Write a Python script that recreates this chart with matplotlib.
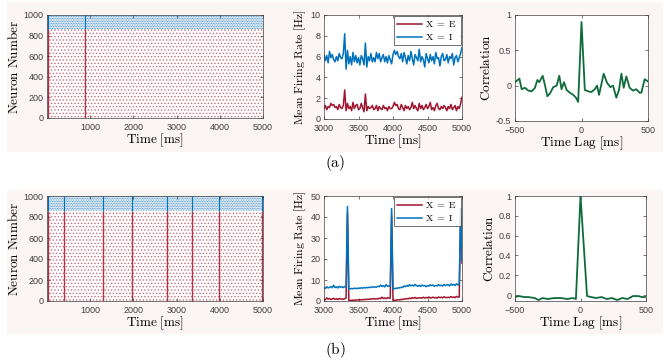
import matplotlib
matplotlib.use("Agg")
import matplotlib.pyplot as plt
from matplotlib.patches import Rectangle
import numpy as np

plt.rcParams["mathtext.fontset"] = "cm"
plt.rcParams["hatch.linewidth"] = 0.6

# ---- data ----
t_end = 5000
n_exc = 860
n_total = 1000
bursts_a = [15, 880]
bursts_b = [15, 400, 1287, 1965, 2773, 3351, 3983, 4985]

rate_t = list(range(3000, 5001, 20))
rate_e_a = [1.0, 1.3, 0.9, 1.2, 1.1, 1.5, 1.3, 1.4, 1.1, 1.2,
            0.9, 1.4, 1.1, 1.0, 1.3, 2.8, 0.8, 1.5, 1.0, 1.2,
            0.8, 1.6, 1.0, 1.3, 1.4, 0.9, 1.0, 1.5, 1.1, 0.7,
            2.4, 0.8, 1.2, 1.0, 1.1, 1.3, 0.9, 1.0, 1.3, 0.8,
            1.2, 1.0, 0.9, 1.3, 1.0, 1.1, 0.8, 1.2, 1.0, 1.0,
            1.2, 1.6, 1.3, 1.4, 1.0, 0.9, 1.4, 1.1, 0.8, 1.3,
            1.0, 1.2, 0.9, 1.1, 1.6, 1.0, 1.3, 1.0, 0.8, 1.5,
            1.0, 1.3, 0.9, 1.1, 1.4, 1.0, 1.2, 1.6, 0.9, 1.1,
            0.8, 1.3, 1.5, 1.0, 0.9, 1.2, 1.0, 1.3, 1.1, 0.8,
            1.2, 1.0, 1.4, 0.9, 1.1, 1.3, 0.8, 1.2, 1.0, 1.5,
            2.1]
rate_i_a = [6.2, 5.6, 6.1, 5.4, 6.5, 5.9, 6.2, 5.7, 5.5, 6.0,
            5.6, 6.3, 5.9, 5.8, 6.3, 8.2, 4.8, 6.6, 5.3, 6.0,
            5.2, 6.4, 5.5, 6.1, 5.4, 5.9, 5.2, 6.1, 5.8, 5.2,
            7.3, 5.0, 6.0, 5.6, 6.3, 5.5, 5.9, 5.5, 6.4, 5.8,
            6.3, 5.5, 5.9, 6.2, 5.5, 6.0, 5.4, 6.1, 5.7, 5.3,
            6.2, 6.6, 6.2, 6.5, 6.0, 5.8, 6.3, 5.5, 6.4, 5.9,
            5.3, 6.1, 5.6, 6.5, 5.8, 5.2, 6.2, 5.9, 5.6, 6.7,
            5.5, 6.0, 5.7, 5.0, 6.3, 5.8, 5.4, 6.2, 5.6, 6.0,
            5.3, 6.4, 5.8, 5.9, 5.1, 6.0, 6.3, 5.6, 5.7, 6.2,
            5.4, 6.0, 5.8, 6.3, 5.2, 5.9, 6.1, 5.5, 5.9, 6.3,
            6.9]
rate_e_b = [0.8, 0.6, 1.5, 0.9, 1.2, 0.7, 1.0, 1.3, 0.8, 1.1,
            0.7, 1.2, 0.9, 1.0, 0.8, 1.1, 1.4, 42.0, 0.2, 0.3,
            0.3, 0.4, 0.4, 0.5, 0.4, 0.6, 0.5, 0.6, 0.7, 0.6,
            0.8, 0.7, 0.9, 0.8, 1.0, 0.9, 1.2, 0.9, 1.1, 1.0,
            1.3, 1.1, 1.8, 1.2, 1.5, 1.1, 1.6, 1.3, 1.4, 41.0,
            0.2, 0.3, 0.4, 0.5, 0.6, 0.5, 0.8, 0.7, 1.0, 0.9,
            1.2, 1.0, 1.4, 1.1, 1.6, 1.3, 1.7, 1.2, 1.5, 1.4,
            1.6, 1.3, 1.8, 1.4, 1.7, 1.5, 1.9, 1.4, 1.6, 1.8,
            1.5, 1.7, 1.4, 1.9, 1.6, 1.8, 1.5, 2.0, 1.7, 1.6,
            1.8, 1.6, 2.1, 1.7, 1.9, 1.6, 2.2, 1.8, 1.9, 41.0,
            18.0]
rate_i_b = [6.3, 6.0, 6.8, 6.2, 6.5, 6.9, 6.3, 7.5, 6.4, 6.8,
            6.2, 7.0, 6.5, 6.8, 6.4, 6.9, 6.6, 45.0, 5.6, 5.8,
            6.0, 5.8, 6.1, 6.0, 5.9, 6.2, 6.0, 6.3, 6.1, 6.4,
            6.2, 6.5, 6.3, 6.6, 6.4, 6.8, 6.5, 6.7, 6.6, 7.0,
            6.8, 7.6, 6.9, 7.3, 6.7, 7.8, 7.0, 7.2, 6.9, 44.0,
            5.6, 5.9, 6.1, 6.0, 6.3, 6.2, 6.6, 6.4, 7.2, 6.8,
            7.4, 7.0, 7.8, 7.2, 7.6, 7.1, 7.9, 7.3, 7.0, 7.5,
            6.9, 7.6, 7.2, 7.4, 6.8, 7.3, 7.1, 7.7, 7.3, 7.6,
            7.0, 7.4, 7.2, 7.8, 7.3, 7.5, 7.1, 7.9, 7.4, 7.6,
            7.8, 7.2, 8.1, 7.5, 7.9, 7.4, 8.2, 7.6, 8.0, 44.0,
            19.0]

lag_a = [-500, -467, -450, -425, -400, -375, -350, -332, -317, -292,
         -275, -257, -237, -212, -187, -167, -150, -132, -112, -87,
         -62, -42, -25, 0, 25, 50, 75, 100, 117, 132,
         167, 192, 217, 237, 262, 282, 300, 317, 337, 362,
         387, 412, 437, 450, 475, 500]
corr_a = [0.05, 0.10, -0.05, -0.03, -0.07, -0.08, -0.03, 0.08, 0.05, 0.14,
          0.01, -0.15, -0.11, -0.02, 0.0, 0.14, -0.05, 0.05, -0.06, -0.10,
          -0.13, -0.17, -0.23, 0.90, -0.06, -0.08, -0.09, -0.05, 0.0, -0.13,
          0.17, 0.04, -0.02, 0.0, -0.17, -0.06, 0.17, -0.03, 0.13, -0.03,
          -0.07, -0.05, -0.10, -0.10, 0.09, 0.06]

lag_b = [-500, -470, -430, -400, -350, -320, -290, -250, -200, -150,
         -100, -60, -35, 0, 50, 80, 120, 160, 200, 240,
         280, 320, 360, 400, 440, 470, 500]
corr_b = [-0.02, -0.01, -0.02, -0.02, -0.03, -0.05, -0.03, -0.04, -0.03, -0.03,
          -0.04, -0.03, -0.04, 1.0, -0.01, -0.02, -0.03, -0.02, -0.04, -0.03,
          -0.05, -0.03, -0.04, -0.01, -0.01, -0.02, -0.02]

# ---- style ----
red = "#a2142f"
blue = "#0072bd"
green = "#0f6b3c"
axcol = "#404040"
bg = "#fbf5f4"


def rm(s):
    return r"$\mathrm{" + s.replace(" ", r"\ ") + "}$"


def style(ax):
    ax.tick_params(direction="in", top=True, right=True, length=2.5,
                   width=0.5, colors=axcol, labelsize=6.5)
    ax.tick_params(axis="x", pad=3.5)
    ax.tick_params(axis="y", pad=2.5)
    for lab in ax.get_xticklabels() + ax.get_yticklabels():
        lab.set_fontfamily("Liberation Sans")
    for s in ax.spines.values():
        s.set_color(axcol)
        s.set_linewidth(0.5)


W, H = 669, 364
fig = plt.figure(figsize=(W / 100, H / 100), dpi=100)


def px(l, t, r, b):
    return [l / W, 1 - b / H, (r - l) / W, (b - t) / H]


# row backgrounds
for (t, b) in [(2, 152), (190, 334)]:
    fig.patches.append(Rectangle((7 / W, 1 - b / H), 656 / W, (b - t) / H,
                                 transform=fig.transFigure, facecolor=bg,
                                 edgecolor="none", zorder=-5))


def raster(ax, bursts):
    ax.fill_between([0, t_end], 0, n_exc, facecolor="none", edgecolor="#c76f7f",
                    hatch=".....", linewidth=0)
    ax.fill_between([0, t_end], n_exc, n_total, facecolor="none", edgecolor="#2f80c0",
                    hatch="..........", linewidth=0)
    ax.vlines(bursts, 0, n_exc, color=red, lw=1.0, alpha=0.85)
    ax.vlines(bursts, n_exc, n_total, color=blue, lw=0.8)
    ax.set_xlim(0, t_end)
    ax.set_ylim(0, n_total)
    ax.set_xticks([1000, 2000, 3000, 4000, 5000])
    ax.set_yticks([0, 200, 400, 600, 800, 1000])
    ax.set_xlabel(rm("Time [ms]"), fontsize=9.5, labelpad=0)
    ax.set_ylabel(rm("Neuron Number"), fontsize=9.5, labelpad=2)
    style(ax)


def rates(ax, e, i, ymax, yticks):
    ax.plot(rate_t, e, color=red, lw=1.1, label=rm("X = E"))
    ax.plot(rate_t, i, color=blue, lw=1.1, label=rm("X = I"))
    ax.set_xlim(3000, 5000)
    ax.set_ylim(0, ymax)
    ax.set_xticks([3000, 3500, 4000, 4500, 5000])
    ax.set_yticks(yticks)
    ax.set_xlabel(rm("Time [ms]"), fontsize=9.5, labelpad=0)
    ax.set_ylabel(rm("Mean Firing Rate [Hz]"), fontsize=8.5, labelpad=2)
    leg = ax.legend(loc="upper right", fontsize=7, fancybox=False,
                    handlelength=2.6, borderpad=0.3, labelspacing=0.3,
                    borderaxespad=0.15, handletextpad=0.3)
    leg.get_frame().set_edgecolor("#303030")
    leg.get_frame().set_linewidth(0.6)
    style(ax)


def corr(ax, lag, c, ylim, yticks, ytl):
    ax.plot(lag, c, color=green, lw=1.3)
    ax.set_xlim(-500, 500)
    ax.set_ylim(*ylim)
    ax.set_xticks([-500, 0, 500])
    ax.set_yticks(yticks)
    ax.set_yticklabels(ytl)
    ax.set_xlabel(rm("Time Lag [ms]"), fontsize=9.5, labelpad=0)
    ax.set_ylabel(rm("Correlation"), fontsize=9.5, labelpad=2)
    style(ax)


ax1 = fig.add_axes(px(47, 15, 263, 118))
raster(ax1, bursts_a)
ax2 = fig.add_axes(px(324, 15, 462, 119))
rates(ax2, rate_e_a, rate_i_a, 10, [0, 2, 4, 6, 8, 10])
ax3 = fig.add_axes(px(515, 15, 648, 121))
corr(ax3, lag_a, corr_a, (-0.5, 1), [-0.5, 0, 0.5, 1], ["-0.5", "0", "0.5", "1"])

ax4 = fig.add_axes(px(47, 196, 263, 301))
raster(ax4, bursts_b)
ax5 = fig.add_axes(px(324, 196, 462, 301))
rates(ax5, rate_e_b, rate_i_b, 50, [0, 10, 20, 30, 40, 50])
ax6 = fig.add_axes(px(515, 196, 646, 301))
corr(ax6, lag_b, corr_b, (-0.06, 1), [0, 0.2, 0.4, 0.6, 0.8, 1],
     ["0", "0.2", "0.4", "0.6", "0.8", "1"])

fig.text(335 / W, 1 - 163 / H, rm("(a)"), ha="center", va="center", fontsize=11)
fig.text(335 / W, 1 - 350 / H, rm("(b)"), ha="center", va="center", fontsize=11)

fig.savefig("out.png", dpi=100, facecolor="white")
